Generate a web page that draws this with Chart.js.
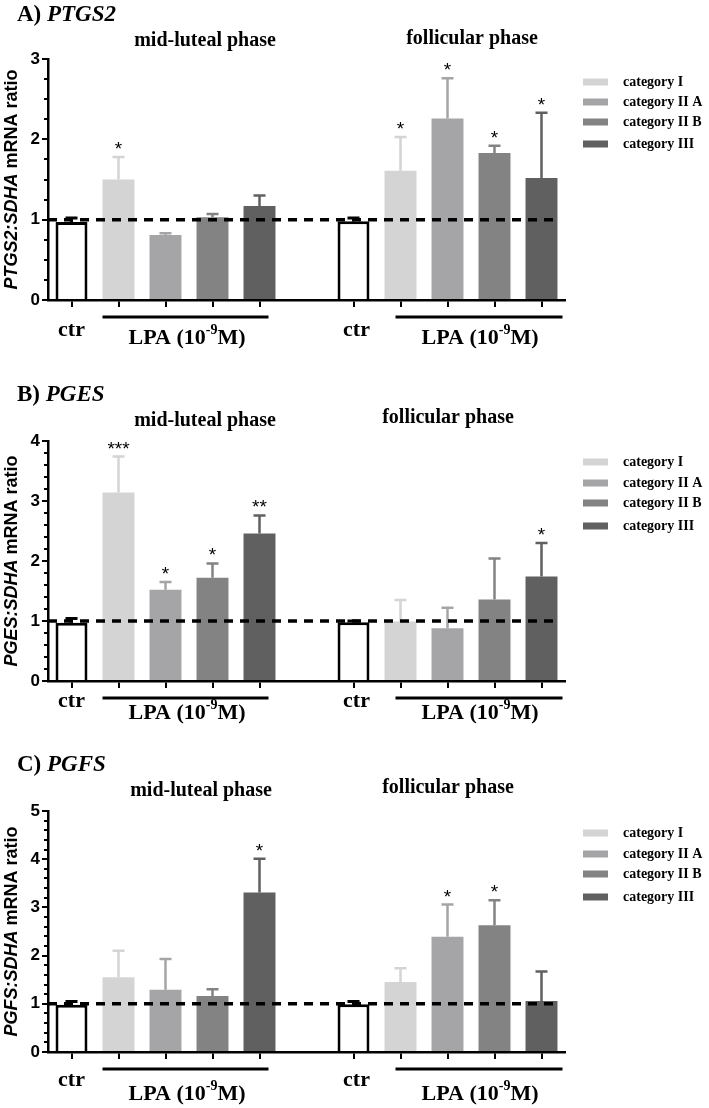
<!DOCTYPE html>
<html>
<head>
<meta charset="utf-8">
<script src="https://cdn.jsdelivr.net/npm/chart.js@4.4.0/dist/chart.umd.min.js"></script>
<style>
body{margin:0;background:#fff;width:709px;height:1108px;position:relative;overflow:hidden}
canvas{position:absolute;left:0}
</style>
</head>
<body>
<canvas id="cA" width="709" height="370" style="top:0px"></canvas>
<canvas id="cB" width="709" height="370" style="top:370px"></canvas>
<canvas id="cC" width="709" height="368" style="top:740px"></canvas>
<script>
// 11 slots: mid-luteal (ctr + 4 categories), empty gap, follicular (ctr + 4 categories)
var labels=['ctr','category I','category II A','category II B','category III','','ctr','category I','category II A','category II B','category III']
var legendLabels=['category I','category II A','category II B','category III']

var ptgs2Mean=[0.97,1.50,0.81,1.03,1.17,null,0.98,1.61,2.26,1.83,1.52]
var ptgs2Sem =[0.05,0.28,0.02,0.04,0.13,null,0.04,0.42,0.50,0.09,0.81]
var ptgs2Stars=['','*','','','','','','*','*','*','*']

var pgesMean=[0.97,3.14,1.52,1.72,2.46,null,0.98,0.99,0.88,1.36,1.74]
var pgesSem =[0.07,0.60,0.13,0.24,0.30,null,0.02,0.36,0.34,0.68,0.56]
var pgesStars=['','***','*','*','**','','','','','','*']

var pgfsMean=[0.98,1.55,1.29,1.16,3.31,null,0.99,1.45,2.39,2.63,1.06]
var pgfsSem =[0.07,0.55,0.64,0.14,0.70,null,0.06,0.29,0.67,0.52,0.61]
var pgfsStars=['','','','','*','','','','*','*','']

var catColors=['#d4d4d4','#a5a5a8','#838383','#606060']
var fillColors=['#ffffff'].concat(catColors,['#ffffff','#ffffff'],catColors)
var edgeColors=['#000000'].concat(catColors,['#000000','#000000'],catColors)

var SERIF='"Liberation Serif","Times New Roman",serif'
var SANS='"Liberation Sans",Arial,sans-serif'

var panels=[
  {id:'cA',letter:'A) ',gene:'PTGS2',mean:ptgs2Mean,sem:ptgs2Sem,stars:ptgs2Stars,max:3,minor:0.25,
   top:59,bottom:300,h:370,titleY:21,phaseY:[46,44],phaseX:[205,472],legendY:[82,102,122,144],ctrDy:30,lpaDy:38},
  {id:'cB',letter:'B) ',gene:'PGES',mean:pgesMean,sem:pgesSem,stars:pgesStars,max:4,minor:0.2,
   top:71,bottom:311,h:370,titleY:31,phaseY:[56,53],phaseX:[205,448],legendY:[92,113,133,156],ctrDy:20,lpaDy:32},
  {id:'cC',letter:'C) ',gene:'PGFS',mean:pgfsMean,sem:pgfsSem,stars:pgfsStars,max:5,minor:0.2,
   top:71,bottom:312,h:368,titleY:31,phaseY:[56,53],phaseX:[201,448],legendY:[93,114,134,157],ctrDy:28,lpaDy:42}
]

function drawLPA(ctx,cx,cy){
  var big='bold 22px '+SERIF, small='bold 14px '+SERIF
  ctx.font=big
  var wa=ctx.measureText('LPA (10').width, wc=ctx.measureText('M)').width
  ctx.font=small
  var wb=ctx.measureText('-9').width
  var x=cx-(wa+wb+wc)/2
  ctx.textAlign='left'
  ctx.textBaseline='middle'
  ctx.font=big
  ctx.fillText('LPA (10',x,cy)
  ctx.font=small
  ctx.fillText('-9',x+wa,cy-8)
  ctx.font=big
  ctx.fillText('M)',x+wa+wb,cy)
}

function overlay(p){
  return {
    id:'overlay',
    afterDraw:function(chart){
      var ctx=chart.ctx, y=chart.scales.y, a=chart.chartArea
      var bars=chart.getDatasetMeta(0).data
      ctx.save()
      ctx.fillStyle='#000'
      // minor y ticks
      ctx.strokeStyle='#000'
      ctx.lineWidth=2
      for(var v=p.minor;v<p.max;v+=p.minor){
        if(Math.abs(v-Math.round(v))<1e-6) continue
        var yy=Math.round(y.getPixelForValue(v))
        ctx.beginPath();ctx.moveTo(a.left-4,yy);ctx.lineTo(a.left,yy);ctx.stroke()
      }
      // error bars (upper only)
      p.mean.forEach(function(m,i){
        if(m==null) return
        var bx=bars[i].x, y0=y.getPixelForValue(m), y1=y.getPixelForValue(m+p.sem[i])
        ctx.strokeStyle=edgeColors[i]
        ctx.lineWidth=fillColors[i]=='#ffffff'?3:2.5
        ctx.beginPath()
        ctx.moveTo(bx,y0);ctx.lineTo(bx,y1)
        ctx.moveTo(bx-6,y1);ctx.lineTo(bx+6,y1)
        ctx.stroke()
        if(p.stars[i]){
          ctx.font='19px '+SANS
          ctx.textAlign='center'
          ctx.textBaseline='alphabetic'
          ctx.fillText(p.stars[i],bx,y1-2)
        }
      })
      // dashed reference line at 1
      var y1=y.getPixelForValue(1)
      ctx.strokeStyle='#000'
      ctx.lineWidth=3.5
      ctx.setLineDash([9,7])
      ctx.beginPath();ctx.moveTo(a.left,y1);ctx.lineTo(a.right-5,y1);ctx.stroke()
      ctx.setLineDash([])
      // LPA bars under groups
      var ly=a.bottom+17
      ctx.lineWidth=3
      ctx.beginPath()
      ctx.moveTo(bars[1].x-16,ly);ctx.lineTo(bars[4].x+9,ly)
      ctx.moveTo(bars[7].x-5,ly);ctx.lineTo(bars[10].x+21,ly)
      ctx.stroke()
      // ctr + LPA labels
      ctx.font='bold 22px '+SERIF
      ctx.textAlign='center'
      ctx.textBaseline='middle'
      ctx.fillText('ctr',bars[0].x,a.bottom+p.ctrDy)
      ctx.fillText('ctr',bars[6].x+3,a.bottom+p.ctrDy)
      drawLPA(ctx,187,a.bottom+p.lpaDy)
      drawLPA(ctx,480,a.bottom+p.lpaDy)
      // panel title
      ctx.textAlign='left'
      ctx.textBaseline='alphabetic'
      ctx.font='bold 23px '+SERIF
      var tw=ctx.measureText(p.letter).width
      ctx.fillText(p.letter,17,p.titleY)
      ctx.font='italic bold 23px '+SERIF
      ctx.fillText(p.gene,17+tw,p.titleY)
      // phase titles
      ctx.font='bold 20px '+SERIF
      ctx.textAlign='center'
      ctx.fillText('mid-luteal phase',p.phaseX[0],p.phaseY[0])
      ctx.fillText('follicular phase',p.phaseX[1],p.phaseY[1])
      // y-axis title
      ctx.save()
      ctx.translate(12,(a.top+a.bottom)/2)
      ctx.rotate(-Math.PI/2)
      ctx.textBaseline='middle'
      ctx.textAlign='left'
      var g=p.gene+':SDHA', r=' mRNA ratio'
      ctx.font='italic bold 18px '+SANS
      var gw=ctx.measureText(g).width
      ctx.font='bold 18px '+SANS
      var rw=ctx.measureText(r).width
      ctx.font='italic bold 18px '+SANS
      ctx.fillText(g,-(gw+rw)/2,0)
      ctx.font='bold 18px '+SANS
      ctx.fillText(r,-(gw+rw)/2+gw,0)
      ctx.restore()
      // legend
      ctx.textAlign='left'
      ctx.textBaseline='middle'
      ctx.font='bold 14px '+SERIF
      legendLabels.forEach(function(t,k){
        ctx.fillStyle=catColors[k]
        ctx.fillRect(583,p.legendY[k]-3.5,25,7)
        ctx.fillStyle='#000'
        ctx.fillText(t,623,p.legendY[k])
      })
      ctx.restore()
    }
  }
}

panels.forEach(function(p){
  new Chart(document.getElementById(p.id),{
    type:'bar',
    data:{
      labels:labels,
      datasets:[{
        data:p.mean,
        backgroundColor:fillColors,
        borderColor:'#000',
        borderWidth:fillColors.map(function(c){return c=='#ffffff'?3:0}),
        barPercentage:0.68,
        categoryPercentage:1
      }]
    },
    options:{
      responsive:false,
      animation:false,
      devicePixelRatio:1,
      layout:{padding:{left:0,right:144,top:p.top,bottom:p.h-p.bottom-10}},
      plugins:{legend:{display:false},tooltip:{enabled:false}},
      scales:{
        x:{
          afterFit:function(s){s.height=10},
          ticks:{display:false},
          grid:{offset:false,drawOnChartArea:false,drawTicks:true,tickLength:7,lineWidth:2,
            color:function(c){return c.index==5?'rgba(0,0,0,0)':'#000'}},
          border:{color:'#000',width:2.5}
        },
        y:{
          min:0,max:p.max,
          afterFit:function(s){s.width=48},
          ticks:{stepSize:1,color:'#000',padding:2,font:{family:SANS,size:17,weight:'bold'}},
          grid:{drawOnChartArea:false,drawTicks:true,tickLength:6,lineWidth:2,color:'#000'},
          border:{color:'#000',width:2.5}
        }
      }
    },
    plugins:[overlay(p)]
  })
})
</script>
</body>
</html>
